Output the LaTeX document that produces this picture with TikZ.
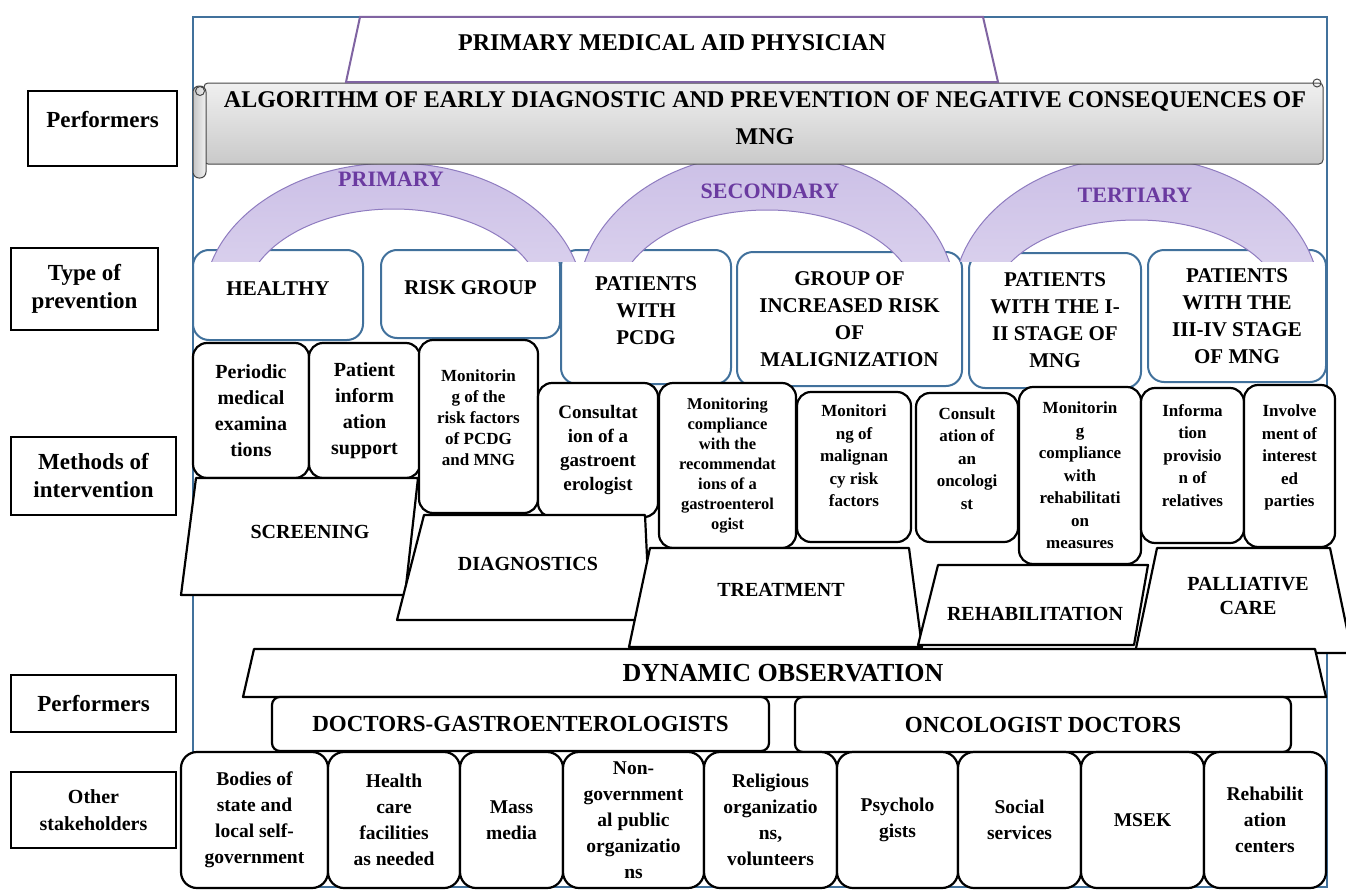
\documentclass[tikz,border=0pt]{standalone}
\usepackage{fontspec}
\setmainfont{Liberation Serif}
\usepackage{tikz}
\usetikzlibrary{calc}

\definecolor{frameblue}{HTML}{41719C}
\definecolor{titleline}{HTML}{8064A2}
\definecolor{arcline}{HTML}{8F7CC0}
\definecolor{arctop}{HTML}{CBBFE6}
\definecolor{arcbottom}{HTML}{F0EBF8}
\definecolor{arcpurple}{HTML}{6A3AA0}

\tikzset{
  sidelab/.style={draw, line width=1.8pt, align=center, font=\fontsize{23}{28}\selectfont\bfseries},
  typebox/.style={draw=frameblue, line width=2pt, rounded corners=16pt, fill=white, align=center,
    font=\fontsize{21}{27}\selectfont\bfseries},
  methbox/.style={draw, line width=2.2pt, rounded corners=14pt, fill=white, align=center, inner sep=1pt,
    font=\fontsize{17}{22.5}\selectfont\bfseries},
  trapz/.style={draw, line width=2.2pt, fill=white, line join=round},
  traptext/.style={align=center, font=\fontsize{20}{24}\selectfont\bfseries},
  docbox/.style={draw, line width=2.2pt, rounded corners=8pt, fill=white, font=\fontsize{23}{27}\selectfont\bfseries},
  stakebox/.style={draw, line width=2.2pt, rounded corners=16pt, fill=white, align=center,
    font=\fontsize{19.5}{26}\selectfont\bfseries},
  arctext/.style={text=arcpurple, font=\fontsize{22}{26}\selectfont\bfseries},
}

\begin{document}
\begin{tikzpicture}[x=1pt,y=-1pt]
  \useasboundingbox (0,0) rectangle (1346,891);
  \draw[frameblue, line width=1.5pt] (193,17) rectangle (1327,887);% outer frame

  % row labels on the left
  \node[sidelab, minimum width=149pt, minimum height=75pt, text depth=18pt] (perfTop) at (102.5,128.5) {Performers};
  \node[sidelab, minimum width=147pt, minimum height=82pt] (typeLab) at (84.5,289) {Type of\\prevention};
  \node[sidelab, minimum width=165pt, minimum height=78pt] (methLab) at (93.5,476) {Methods of\\intervention};
  \node[sidelab, minimum width=165pt, minimum height=57pt] (perfBot) at (93.5,703.5) {Performers};
  \node[sidelab, minimum width=165pt, minimum height=76pt, font=\fontsize{20}{27}\selectfont\bfseries]
    (otherLab) at (93.5,810) {Other\\stakeholders};

  % groups of patients
  \node[typebox, minimum width=170pt, minimum height=90pt, text depth=12pt] (healthy) at (278,295) {HEALTHY};
  \node[typebox, minimum width=179pt, minimum height=88pt, text depth=12pt] (riskgrp) at (470.5,294) {RISK GROUP};
  \node[typebox, minimum width=170pt, minimum height=134pt, text depth=12pt] (pcdg) at (646,317) {PATIENTS\\WITH\\PCDG};
  \node[typebox, minimum width=225pt, minimum height=134pt] (incrisk) at (849.5,319) {GROUP OF\\INCREASED RISK\\OF\\MALIGNIZATION};
  \node[typebox, minimum width=172pt, minimum height=135pt] (stageA) at (1055,320.5) {PATIENTS\\WITH THE I-\\II STAGE OF\\MNG};
  \node[typebox, minimum width=178pt, minimum height=132pt] (stageB) at (1237,316) {PATIENTS\\WITH THE\\III-IV STAGE\\OF MNG};

  % prevention arcs: centre x, outer radii, inner radii, label
  \foreach \cx/\orx/\ory/\irx/\iry/\nm/\lx/\ly in
      {393.5/189.6/138/148.2/92/PRIMARY/391/179,
       767/189/148/149.2/91/SECONDARY/770/191,
       1136.5/183.7/144/143.2/81/TERTIARY/1135/195}{
    \begin{scope}
      \clip (\cx-200,140) rectangle (\cx+200,261);
      \path[top color=arctop, bottom color=arcbottom, even odd rule]
        (\cx,301) ellipse [x radius=\orx pt, y radius=\ory pt]
        (\cx,301) ellipse [x radius=\irx pt, y radius=\iry pt];
      \draw[arcline, line width=1pt]
        (\cx,301) ellipse [x radius=\orx pt, y radius=\ory pt]
        (\cx,301) ellipse [x radius=\irx pt, y radius=\iry pt];
    \end{scope}
    \node[arctext] (arc\nm) at (\lx,\ly) {\nm};
  }

  % scroll with the algorithm title
  \shade[top color=gray!12, bottom color=gray!42, draw=gray!55!black, line width=1pt, rounded corners=4pt]
    (204,83) rectangle (1323,164);
  \shade[left color=gray!45, right color=gray!10, draw=gray!55!black, line width=1pt, rounded corners=6pt]
    (193,86) rectangle (206,178);
  \draw[gray!55!black, line width=1pt] (200,91) circle (4.5);
  \draw[gray!55!black, line width=1pt] (1317,83) circle (4);
  \node[align=center, font=\fontsize{24}{37}\selectfont\bfseries] (algo) at (765,118)
    {ALGORITHM OF EARLY DIAGNOSTIC AND PREVENTION OF NEGATIVE CONSEQUENCES OF\\MNG};

  % top title
  \draw[titleline, line width=2pt, fill=white] (360,17) -- (983,17) -- (998,82) -- (346,82) -- cycle;
  \node[font=\fontsize{24}{28}\selectfont\bfseries] (physician) at (672,43) {PRIMARY MEDICAL AID PHYSICIAN};

  % methods of intervention
  \node[methbox, minimum width=116pt, minimum height=135pt, font=\fontsize{20}{26}\selectfont\bfseries]
    (periodic) at (251,410.5) {Periodic\\medical\\examina\\tions};
  \node[methbox, minimum width=111pt, minimum height=135pt, font=\fontsize{20}{26}\selectfont\bfseries]
    (patinfo) at (364.5,410.5) {Patient\\inform\\ation\\support};
  \node[methbox, minimum width=119pt, minimum height=173pt, text depth=18pt, font=\fontsize{17}{21}\selectfont\bfseries]
    (monrisk) at (478.5,426.5) {Monitorin\\g of the\\risk factors\\of PCDG\\and MNG};
  \node[methbox, minimum width=120pt, minimum height=134pt, font=\fontsize{19}{24}\selectfont\bfseries]
    (consgas) at (598,450) {Consultat\\ion of a\\gastroent\\erologist};
  \node[methbox, minimum width=137pt, minimum height=165pt, font=\fontsize{16.5}{20}\selectfont\bfseries]
    (moncomp) at (727.5,465.5) {Monitoring\\compliance\\with the\\recommendat\\ions of a\\gastroenterol\\ogist};
  \node[methbox, minimum width=114pt, minimum height=150pt, text depth=22pt]
    (monmal) at (854,467) {Monitori\\ng of\\malignan\\cy risk\\factors};
  \node[methbox, minimum width=102pt, minimum height=149pt, text depth=18pt]
    (consonc) at (967,467.5) {Consult\\ation of\\an\\oncologi\\st};
  \node[methbox, minimum width=122pt, minimum height=177pt]
    (monreh) at (1080,475.5) {Monitorin\\g\\compliance\\with\\rehabilitati\\on\\measures};
  \node[methbox, minimum width=103pt, minimum height=155pt, text depth=20pt]
    (infoprov) at (1192.5,465.5) {Informa\\tion\\provisio\\n of\\relatives};
  \node[methbox, minimum width=91pt, minimum height=162pt, text depth=20pt]
    (involve) at (1289.5,466) {Involve\\ment of\\interest\\ed\\parties};

  % kinds of care
  \draw[trapz] (196,478) -- (418,478) -- (405,595) -- (181,595) -- cycle;
  \node[traptext] (screening) at (310,532) {SCREENING};
  \draw[trapz] (424,515) -- (645,515) -- (650,620) -- (397,620) -- cycle;
  \node[traptext] (diagnostics) at (528,564) {DIAGNOSTICS};
  \draw[trapz] (650,548) -- (909,548) -- (922,647) -- (629,647) -- cycle;
  \node[traptext] (treatment) at (781,590) {TREATMENT};
  \draw[trapz] (938,565) -- (1148,565) -- (1134,645) -- (918,645) -- cycle;
  \node[traptext] (rehab) at (1035,614) {REHABILITATION};
  \draw[trapz] (1157,548) -- (1330,548) -- (1352,653) -- (1135,653) -- cycle;
  \node[traptext] (palliative) at (1248,596) {PALLIATIVE\\CARE};

  % observation and doctors
  \draw[trapz] (254,649) -- (1315,649) -- (1326,697) -- (243,697) -- cycle;
  \node[font=\fontsize{26}{30}\selectfont\bfseries] (dynobs) at (783,673) {DYNAMIC OBSERVATION};
  \node[docbox, minimum width=497pt, minimum height=54pt] (gastrodoc) at (520.5,724) {DOCTORS-GASTROENTEROLOGISTS};
  \node[docbox, minimum width=496pt, minimum height=55pt] (oncodoc) at (1043,724.5) {ONCOLOGIST DOCTORS};

  % other stakeholders
  \foreach \nm/\cx/\w/\txt in
      {bodies/254.5/147/{Bodies of\\state and\\local self-\\government},
       health/394/132/{Health\\care\\facilities\\as needed},
       mass/511.5/103/{Mass\\media},
       nongov/633.5/141/{Non-\\government\\al public\\organizatio\\ns},
       relig/770.5/133/{Religious\\organizatio\\ns,\\volunteers},
       psych/897.5/121/{Psycholo\\gists},
       social/1019.5/123/{Social\\services},
       msek/1142.5/123/{MSEK},
       rehabc/1265/122/{Rehabilit\\ation\\centers}}{
    \node[stakebox, minimum width=\w pt, minimum height=136pt] (\nm) at (\cx,820) {\txt};
  }
\end{tikzpicture}
\end{document}
